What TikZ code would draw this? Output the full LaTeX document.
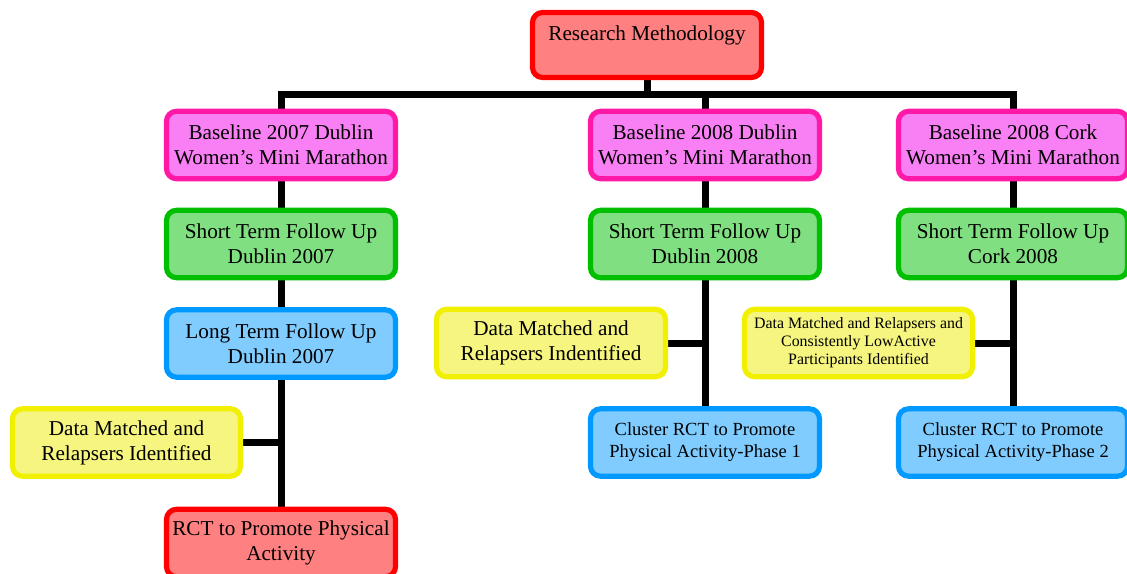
\documentclass[tikz,border=0pt]{standalone}
\usepackage{fontspec}
\setmainfont{Liberation Serif}
\usetikzlibrary{backgrounds}
\definecolor{redfill}{HTML}{FF8080}
\definecolor{redline}{HTML}{FF0000}
\definecolor{pinkfill}{HTML}{F880F4}
\definecolor{pinkline}{HTML}{FF19A6}
\definecolor{greenfill}{HTML}{80DF80}
\definecolor{greenline}{HTML}{00BF00}
\definecolor{bluefill}{HTML}{80CCFF}
\definecolor{blueline}{HTML}{0099FF}
\definecolor{yellowfill}{HTML}{F5F57F}
\definecolor{yellowline}{HTML}{F0F000}
\tikzset{
  box/.style={rectangle, rounded corners=7.5pt, line width=3.9pt, align=center,
    minimum width=171.75pt, minimum height=50.5pt, inner sep=1pt,
    font=\fontsize{15.9pt}{18.75pt}\selectfont},
  redbox/.style={box, draw=redline, fill=redfill},
  pinkbox/.style={box, draw=pinkline, fill=pinkfill},
  greenbox/.style={box, draw=greenline, fill=greenfill},
  bluebox/.style={box, draw=blueline, fill=bluefill},
  yellowbox/.style={box, draw=yellowline, fill=yellowfill},
  smallfont/.style={font=\fontsize{13.9pt}{16.5pt}\selectfont},
  tinyfont/.style={font=\fontsize{11.9pt}{13.5pt}\selectfont},
  conn/.style={line width=5.25pt, draw=black},
}
\begin{document}
\begin{tikzpicture}[x=0.75pt,y=-0.75pt]
\useasboundingbox (0,0) rectangle (1127,574);
% top
\node[redbox, minimum height=48.75pt] (top) at (647,45) {Research Methodology\\[-6pt] \strut};
% column 1
\node[pinkbox] (b1) at (281,145) {Baseline 2007 Dublin\\Women’s Mini Marathon};
\node[greenbox] (s1) at (281,244) {Short Term Follow Up\\Dublin 2007};
\node[bluebox] (l1) at (281,343.5) {Long Term Follow Up\\Dublin 2007};
\node[yellowbox, minimum width=171pt] (y1) at (126.5,442.5) {Data Matched and\\Relapsers Identified};
\node[redbox] (r1) at (281,543) {RCT to Promote Physical\\Activity};
% column 2
\node[pinkbox] (b2) at (705,145) {Baseline 2008 Dublin\\Women’s Mini Marathon};
\node[greenbox] (s2) at (705,244) {Short Term Follow Up\\Dublin 2008};
\node[yellowbox] (y2) at (551,343) {Data Matched and\\Relapsers Indentified};
\node[bluebox, smallfont] (c2) at (705,442.5) {Cluster RCT to Promote\\Physical Activity-Phase 1};
% column 3
\node[pinkbox] (b3) at (1013,145) {Baseline 2008 Cork\\Women’s Mini Marathon};
\node[greenbox] (s3) at (1013,244) {Short Term Follow Up\\Cork 2008};
\node[yellowbox, tinyfont, minimum width=171pt] (y3) at (858.5,343) {Data Matched and Relapsers and\\Consistently LowActive\\Participants Identified};
\node[bluebox, smallfont] (c3) at (1013,442.5) {Cluster RCT to Promote\\Physical Activity-Phase 2};
\coordinate (bus) at (647,95);
\begin{scope}[on background layer]
  \draw[conn] (top.south) -- (top.south |- bus);
  \draw[conn] (b1.north) -- (b1.north |- bus) -- (b3.north |- bus) -- (b3.north);
  \draw[conn] (b2.north) -- (b2.north |- bus);
  \draw[conn] (b1) -- (s1);
  \draw[conn] (s1) -- (l1);
  \draw[conn] (l1) -- (r1);
  \draw[conn] (y1.east) -- (y1.east -| l1);
  \draw[conn] (b2) -- (s2);
  \draw[conn] (s2) -- (c2);
  \draw[conn] (y2.east) -- (y2.east -| s2);
  \draw[conn] (b3) -- (s3);
  \draw[conn] (s3) -- (c3);
  \draw[conn] (y3.east) -- (y3.east -| s3);
\end{scope}
\end{tikzpicture}
\end{document}
